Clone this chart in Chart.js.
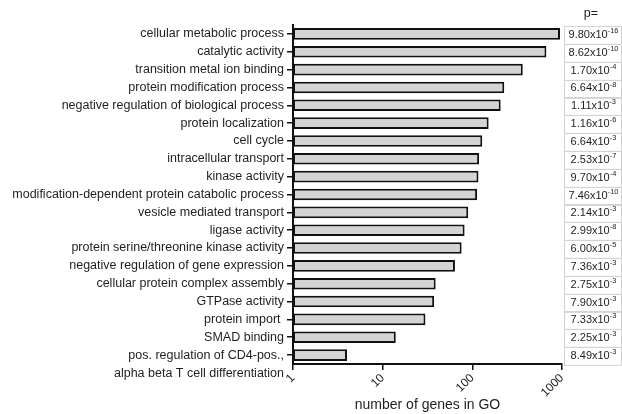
<!DOCTYPE html>
<html>
<head>
<meta charset="utf-8">
<script src="https://cdn.jsdelivr.net/npm/chart.js@4/dist/chart.umd.min.js"></script>
<style>
  html, body { margin: 0; padding: 0; background: #ffffff; }
  #wrap { width: 622px; height: 414px; position: relative; }
</style>
</head>
<body>
<div id="wrap"><canvas id="c" width="622" height="414"></canvas></div>
<script>
const categories = [
  "cellular metabolic process",
  "catalytic activity",
  "transition metal ion binding",
  "protein modification process",
  "negative regulation of biological process",
  "protein localization",
  "cell cycle",
  "intracellular transport",
  "kinase activity",
  "modification-dependent protein catabolic process",
  "vesicle mediated transport",
  "ligase activity",
  "protein serine/threonine kinase activity",
  "negative regulation of gene expression",
  "cellular protein complex assembly",
  "GTPase activity",
  "protein import ",
  "SMAD binding",
  ["pos. regulation of CD4-pos.,", "alpha beta T cell differentiation"]
];
const geneCounts = [950, 670, 365, 227, 207, 152, 129, 119, 117, 113, 90, 82, 76, 64, 39, 37.5, 30, 14, 4];
const pMantissa = ["9.80","8.62","1.70","6.64","1.11","1.16","6.64","2.53","9.70","7.46","2.14","2.99","6.00","7.36","2.75","7.90","7.33","2.25","8.49"];
const pExponent = ["-16","-10","-4","-8","-3","-6","-3","-7","-4","-10","-3","-8","-5","-3","-3","-3","-3","-3","-3"];
const xTickValues = [1, 10, 100, 1000];
const xTitle = "number of genes in GO";
const pHeader = "p=";

const FONT = "'Liberation Sans', Arial, Helvetica, sans-serif";
const TEXT = "#1e1e1e";

const pTablePlugin = {
  id: 'pTable',
  afterDraw(chart) {
    const ctx = chart.ctx;
    const ys = chart.scales.y;
    const band = ys.getPixelForValue(1) - ys.getPixelForValue(0);
    const x0 = 564, w = 57;
    ctx.save();
    ctx.fillStyle = TEXT;
    ctx.font = "12.5px " + FONT;
    ctx.textAlign = "center";
    ctx.textBaseline = "middle";
    ctx.fillText(pHeader, 591, 14);
    for (let i = 0; i < pMantissa.length; i++) {
      const yc = ys.getPixelForValue(i);
      const top = Math.round(yc - band / 2 + 1) + 0.5;
      ctx.strokeStyle = "#d2d2d2";
      ctx.lineWidth = 1;
      ctx.strokeRect(x0 + 0.5, top, w, band);
      const base = pMantissa[i] + "x10";
      const ex = pExponent[i];
      ctx.font = "11px " + FONT;
      const bw = ctx.measureText(base).width;
      ctx.font = "7.5px " + FONT;
      const ew = ctx.measureText(ex).width;
      const sx = x0 + w / 2 - (bw + ew) / 2 + 1;
      ctx.textAlign = "left";
      ctx.textBaseline = "middle";
      ctx.fillStyle = TEXT;
      ctx.font = "11px " + FONT;
      ctx.fillText(base, sx, yc + 1);
      ctx.font = "7.5px " + FONT;
      ctx.fillText(ex, sx + bw, yc - 3);
    }
    ctx.restore();
  }
};

new Chart(document.getElementById('c'), {
  type: 'bar',
  data: {
    labels: categories,
    datasets: [{
      data: geneCounts,
      backgroundColor: '#d4d4d4',
      borderColor: '#111111',
      borderWidth: 2,
      borderSkipped: false,
      barPercentage: 0.65,
      categoryPercentage: 1.0
    }]
  },
  options: {
    indexAxis: 'y',
    responsive: false,
    animation: false,
    devicePixelRatio: 1,
    layout: { padding: { left: 0, right: 60, top: 25, bottom: 0 } },
    plugins: { legend: { display: false }, tooltip: { enabled: false } },
    scales: {
      x: {
        type: 'logarithmic',
        min: 1, max: 1000,
        afterBuildTicks: (s) => { s.ticks = xTickValues.map(v => ({ value: v, major: true })); },
        afterFit: (s) => { s.height = 50; s.paddingLeft = 0; s.paddingRight = 0; },
        ticks: {
          callback: (v) => String(v),
          minRotation: 45, maxRotation: 45,
          color: TEXT,
          font: { family: FONT, size: 12 },
          padding: 1,
          autoSkip: false
        },
        grid: { drawOnChartArea: false, drawTicks: true, tickLength: 6, color: '#111', lineWidth: 1.5 },
        border: { display: true, color: '#111', width: 2 },
        title: { display: true, text: xTitle, color: TEXT, font: { family: FONT, size: 14 }, padding: { top: 0, bottom: 0 } }
      },
      y: {
        type: 'category',
        afterFit: (s) => { s.width = 293; s.paddingTop = 0; s.paddingBottom = 0; },
        ticks: {
          callback: function (v, i) {
            const l = categories[i];
            return Array.isArray(l) ? [""].concat(l) : l;
          },
          color: TEXT,
          font: { family: FONT, size: 12.5, lineHeight: 1.45 },
          padding: 3,
          autoSkip: false
        },
        grid: { offset: false, drawOnChartArea: false, drawTicks: true, tickLength: 6, color: '#111', lineWidth: 1.5 },
        border: { display: true, color: '#111', width: 2 }
      }
    }
  },
  plugins: [pTablePlugin]
});
</script>
</body>
</html>
